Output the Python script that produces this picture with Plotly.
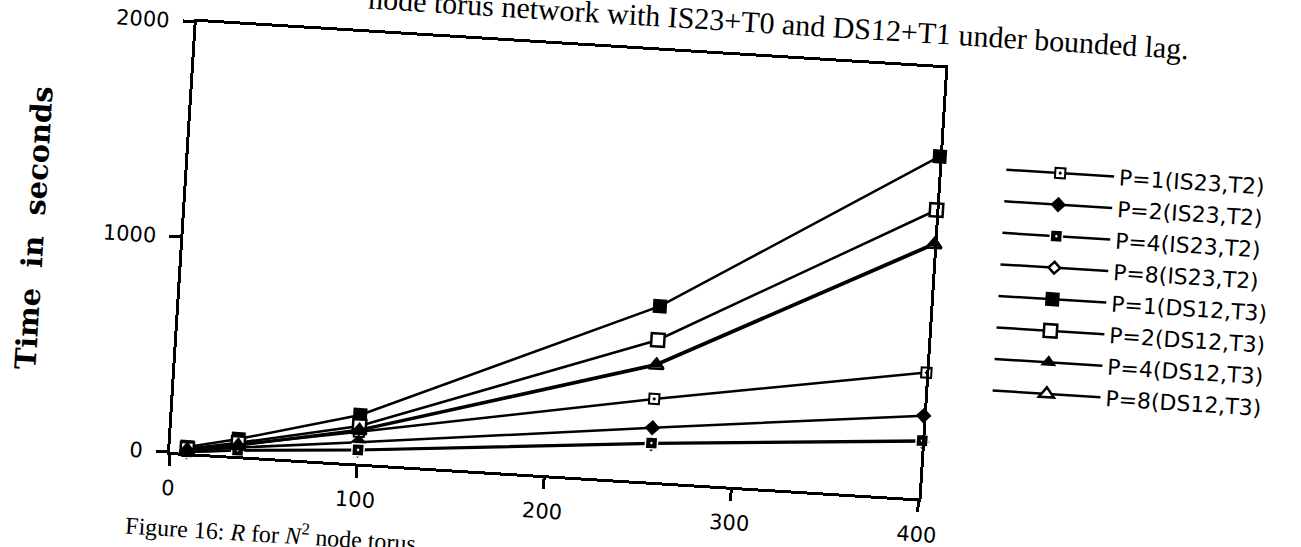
import plotly.graph_objects as go

# Problem size (N^2 nodes) on the x axis
n_sq = [9, 36, 100, 256, 400]

# Run time in seconds, IS23 with T2
is23_p1 = [13, 52, 148, 385, 585]
is23_p2 = [9, 40, 99, 251, 385]
is23_p4 = [6, 28, 64, 180, 269]
is23_p8 = [5, 26, 62, 176, 265]

# Run time in seconds, DS12 with T3
ds12_p1 = [28, 80, 226, 816, 1590]
ds12_p2 = [20, 62, 175, 659, 1341]
ds12_p4 = [16, 52, 157, 548, 1187]
ds12_p8 = [15, 50, 154, 541, 1180]

x_ticks = [0, 100, 200, 300, 400]
y_ticks = [0, 1000, 2000]

# (legend name, values, marker style, legend position)
# Traces are listed in drawing order; filled markers go on top of the
# near-identical hollow ones.
series = [
    ("P=1(IS23,T2)", is23_p1, dict(symbol="square-dot", size=10, color="white", line=dict(color="black", width=2)), 1),
    ("P=2(IS23,T2)", is23_p2, dict(symbol="diamond", size=12, color="black", line=dict(color="black", width=0)), 2),
    ("P=8(IS23,T2)", is23_p8, dict(symbol="diamond", size=9, color="white", line=dict(color="black", width=2.5)), 4),
    ("P=4(IS23,T2)", is23_p4, dict(symbol="square-dot", size=12, color="black", line=dict(color="white", width=1.5)), 3),
    ("P=1(DS12,T3)", ds12_p1, dict(symbol="square", size=14, color="black", line=dict(color="black", width=0)), 5),
    ("P=2(DS12,T3)", ds12_p2, dict(symbol="square", size=13, color="white", line=dict(color="black", width=2.5)), 6),
    ("P=8(DS12,T3)", ds12_p8, dict(symbol="triangle-up", size=13, color="white", line=dict(color="black", width=2.5)), 8),
    ("P=4(DS12,T3)", ds12_p4, dict(symbol="triangle-up", size=14, color="black", line=dict(color="black", width=0)), 7),
]

fig = go.Figure()
for name, vals, marker, rank in series:
    fig.add_trace(go.Scatter(
        x=n_sq, y=vals, name=name, mode="lines+markers",
        line=dict(color="black", width=2.5),
        marker=marker, cliponaxis=False, legendrank=rank,
    ))

tick_font = dict(family="DejaVu Sans", size=21, color="black")
axis_common = dict(
    showline=True, linewidth=3, linecolor="black", mirror=True,
    ticks="outside", ticklen=11, tickwidth=2.5, tickcolor="black",
    showgrid=False, zeroline=False, tickfont=tick_font,
)

# Extra canvas above and below the page so the turned captions are not clipped
EXTRA_TOP = 60
EXTRA_BOTTOM = 40

fig.update_layout(
    width=1301, height=547 + EXTRA_TOP + EXTRA_BOTTOM,
    margin=dict(l=170, r=381, t=21 + EXTRA_TOP, b=95 + EXTRA_BOTTOM),
    paper_bgcolor="white", plot_bgcolor="white",
    showlegend=True,
    legend=dict(
        x=1.083, y=0.822, xanchor="left", yanchor="top",
        font=dict(family="DejaVu Sans", size=22, color="black"),
        itemwidth=108, bgcolor="rgba(0,0,0,0)", tracegroupgap=0,
    ),
    xaxis=dict(range=[0, 400], tickvals=x_ticks, ticklabelstandoff=4, **axis_common),
    yaxis=dict(range=[0, 2000], tickvals=y_ticks, ticklabelstandoff=9, **axis_common),
    annotations=[
        dict(text="<b>Time  in  seconds</b>", xref="paper", yref="paper",
             x=-0.2, y=0.5, xanchor="center", yanchor="middle",
             textangle=-90, showarrow=False,
             font=dict(family="DejaVu Serif", size=29, color="black")),
        dict(text="node torus network with IS23+T0 and DS12+T1 under bounded lag.",
             xref="paper", yref="paper", x=0.775, y=1.081,
             xanchor="center", yanchor="middle", showarrow=False,
             font=dict(family="Liberation Serif", size=30, color="black")),
        dict(text="Figure 16: <i>R</i> for <i>N</i><sup>2</sup> node torus",
             xref="paper", yref="paper", x=-0.056, y=-0.171,
             xanchor="left", yanchor="middle", showarrow=False,
             font=dict(family="Liberation Serif", size=24, color="black")),
    ],
)

# The printed page sits slightly turned on the scanner bed
post = """
document.documentElement.style.overflow = 'hidden';
document.body.style.overflow = 'hidden';
var gd = document.getElementById('{plot_id}');
gd.style.transformOrigin = '170px %dpx';
gd.style.transform = 'translateY(-%dpx) rotate(3.55deg)';
""" % (452 + EXTRA_TOP, EXTRA_TOP)
fig.write_html("out.html", post_script=post)
